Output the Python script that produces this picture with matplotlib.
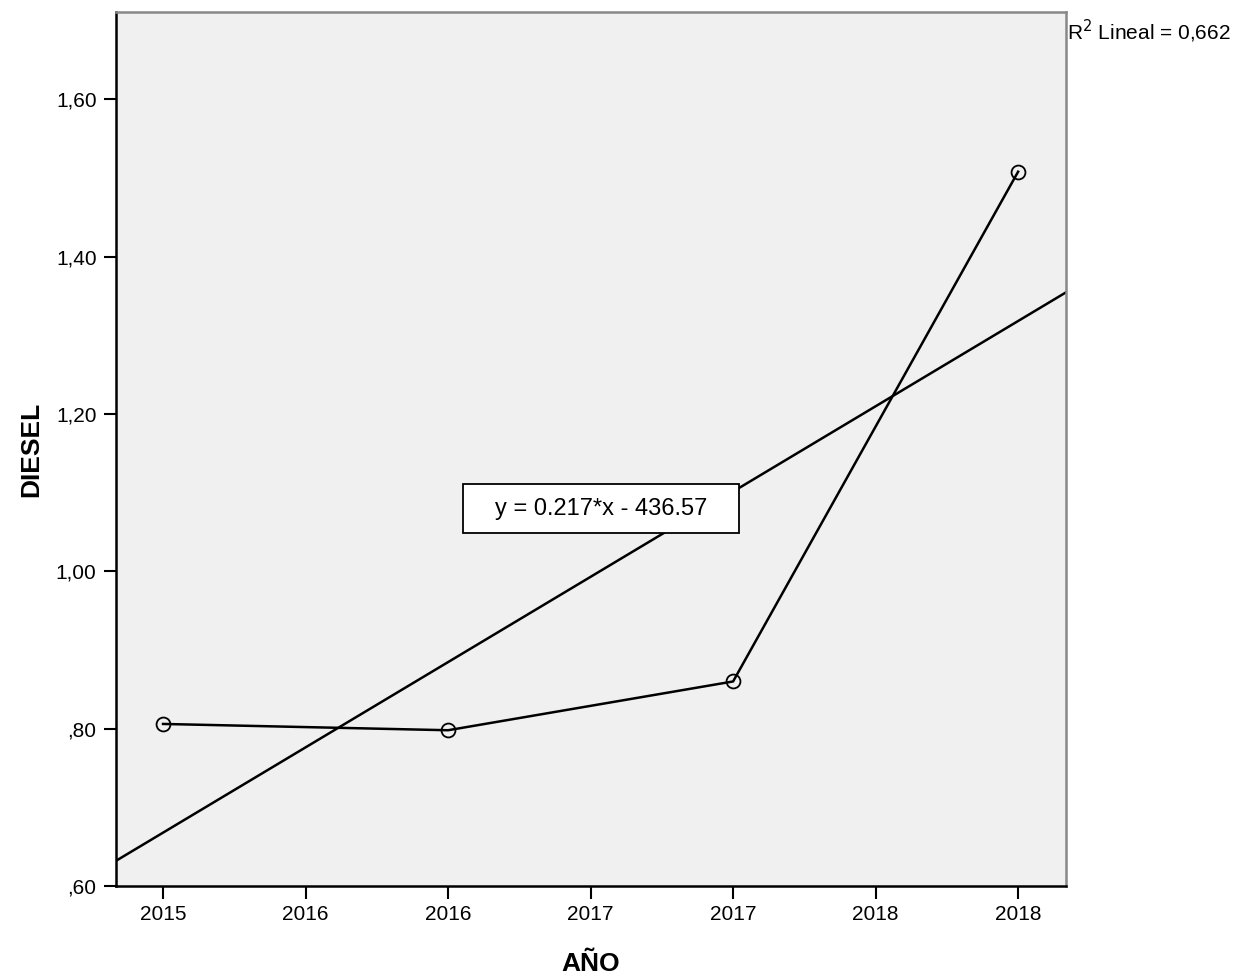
import numpy as np
import matplotlib.pyplot as plt
from matplotlib.patches import Rectangle

plt.rcParams['font.family'] = ['Liberation Sans', 'DejaVu Sans']

# data
years = [2015, 2016, 2017, 2018]
diesel = [0.806, 0.798, 0.860, 1.508]
xtick_pos = [2015, 2015.5, 2016, 2016.5, 2017, 2017.5, 2018]
xtick_labels = ["2015", "2016", "2016", "2017", "2017", "2018", "2018"]
ytick_pos = [0.60, 0.80, 1.00, 1.20, 1.40, 1.60]
ytick_labels = [",60", ",80", "1,00", "1,20", "1,40", "1,60"]

W, H = 1237, 976
fig = plt.figure(figsize=(W / 100, H / 100), dpi=100)
ax = fig.add_axes([116 / W, 1 - 886 / H, 950 / W, 874 / H])
ax.set_facecolor('#f0f0f0')

xmin, xmax = 2014.835, 2018.168
ax.set_xlim(xmin, xmax)
ax.set_ylim(0.60, 1.711)

# linear fit
slope, intercept = np.polyfit(years, diesel, 1)
xs = np.array([xmin, xmax])
ax.plot(xs, slope * xs + intercept, color='black', lw=1.8, zorder=2)

ax.plot(years, diesel, color='black', lw=1.8, marker='o', markersize=10,
        markerfacecolor='none', markeredgecolor='black', markeredgewidth=1.3, zorder=3)

ax.set_xticks(xtick_pos)
ax.set_xticklabels(xtick_labels)
ax.set_yticks(ytick_pos)
ax.set_yticklabels(ytick_labels)
ax.tick_params(axis='both', direction='out', length=9, width=1.5, labelsize=15, pad=5)

for s in ['left', 'bottom']:
    ax.spines[s].set_color('black')
    ax.spines[s].set_linewidth(1.8)
for s in ['top', 'right']:
    ax.spines[s].set_color('#888888')
    ax.spines[s].set_linewidth(1.8)

ax.set_xlabel("AÑO", fontsize=19, fontweight='bold', labelpad=20)
ax.set_ylabel("DIESEL", fontsize=19, fontweight='bold', labelpad=9)

# equation box
fig.patches.append(Rectangle((463 / W, 1 - 533 / H), 276 / W, 49 / H,
                             transform=fig.transFigure, facecolor='white',
                             edgecolor='black', lw=1.3, zorder=5))
fig.text(601 / W, 1 - 509 / H, "y = 0.217*x - 436.57", fontsize=17,
         ha='center', va='center', zorder=6)

fig.text(1067 / W, 1 - 31 / H, "R$^2$ Lineal = 0,662", fontsize=15, ha='left', va='center')

fig.savefig("out.png", dpi=100)
